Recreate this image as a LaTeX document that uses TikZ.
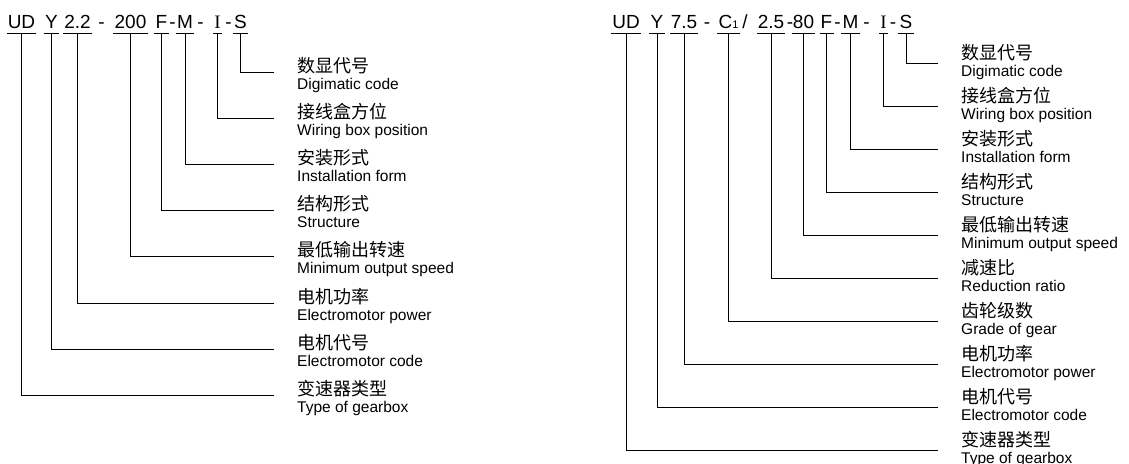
\documentclass[tikz,border=0pt]{standalone}
\usepackage{fontspec}
\setmainfont{Liberation Sans}
\newfontfamily\zhfam{Noto Sans CJK SC}
\newfontfamily\seriffam{Liberation Serif}
\usepackage{tikz}
\usetikzlibrary{positioning,calc}

\begin{document}
\begin{tikzpicture}[
  x=1pt, y=-1pt,
  code/.style={font=\fontsize{19}{19}\selectfont, inner xsep=0pt, inner ysep=5pt, text height=14pt, text depth=0pt, anchor=base},
  gap/.style={font=\fontsize{19}{19}\selectfont, inner sep=0pt, anchor=base},
  uline/.style={line width=0.8pt},
  lead/.style={line width=0.8pt},
  zh/.style={font=\zhfam\fontsize{18}{18}\selectfont, inner sep=0pt, anchor=base west},
  en/.style={font=\fontsize{15.5}{15.5}\selectfont, inner sep=0pt, anchor=base west}
]
\useasboundingbox (0,0) rectangle (1129,463);

% left code: UD Y 2.2 - 200 F-M - I - S
\foreach \n/\x/\t in {UD/21.5/UD, Y/51.5/Y, P/77.5/2.2, sp/130.5/200, F/161.5/F, M/185/M, I/217.5/{\seriffam I}, S/240.5/S}
  {\node[code] (a\n) at (\x,28) {\t};
   \draw[uline] ([xshift=-1pt]a\n.south west) -- ([xshift=1pt]a\n.south east);}
\foreach \x [count=\i] in {101.5,172.5,200.5,228.5}
  \node[gap] (ga\i) at (\x,28) {-};

\foreach \n/\y/\lzh/\leng in {S/72/数显代号/Digimatic code,
    I/118/接线盒方位/Wiring box position,
    M/164/安装形式/Installation form,
    F/210.5/结构形式/Structure,
    sp/256.5/最低输出转速/Minimum output speed,
    P/303/电机功率/Electromotor power,
    Y/349/电机代号/Electromotor code,
    UD/395.5/变速器类型/Type of gearbox}
  {\coordinate (ea\n) at (274,\y);
   \draw[lead] (a\n.south) |- (ea\n);
   \node[zh] (za\n) at ([xshift=23pt]ea\n) {\lzh};
   \node[en] (na\n) at ([xshift=23pt,yshift=-17pt]ea\n) {\leng};}

% right code: UD Y 7.5 - C1 / 2.5-80 F-M - I - S
\foreach \n/\x/\t in {UD/626/UD, Y/657/Y, pw/684/7.5, gr/728.5/{C{\fontsize{11}{11}\selectfont 1}}, ra/771/2.5, sp/803.5/80, F/826.5/F, M/850.5/M, I/883.5/{\seriffam I}, S/906/S}
  {\node[code] (b\n) at (\x,28) {\t};
   \draw[uline] ([xshift=-1pt]b\n.south west) -- ([xshift=1pt]b\n.south east);}
\foreach \x [count=\i] in {707,790,837.5,866.5,893}
  \node[gap] (gb\i) at (\x,28) {-};
\node[gap] (gbs) at (745,28) {/};

\foreach \n/\y/\lzh/\leng in {S/63/数显代号/Digimatic code,
    I/106/接线盒方位/Wiring box position,
    M/149/安装形式/Installation form,
    F/192.5/结构形式/Structure,
    sp/235/最低输出转速/Minimum output speed,
    ra/278/减速比/Reduction ratio,
    gr/321/齿轮级数/Grade of gear,
    pw/364/电机功率/Electromotor power,
    Y/407/电机代号/Electromotor code,
    UD/450/变速器类型/Type of gearbox}
  {\coordinate (eb\n) at (938,\y);
   \draw[lead] (b\n.south) |- (eb\n);
   \node[zh] (zb\n) at ([xshift=23pt,yshift=4pt]eb\n) {\lzh};
   \node[en] (nb\n) at ([xshift=23pt,yshift=-13pt]eb\n) {\leng};}
\end{tikzpicture}
\end{document}
